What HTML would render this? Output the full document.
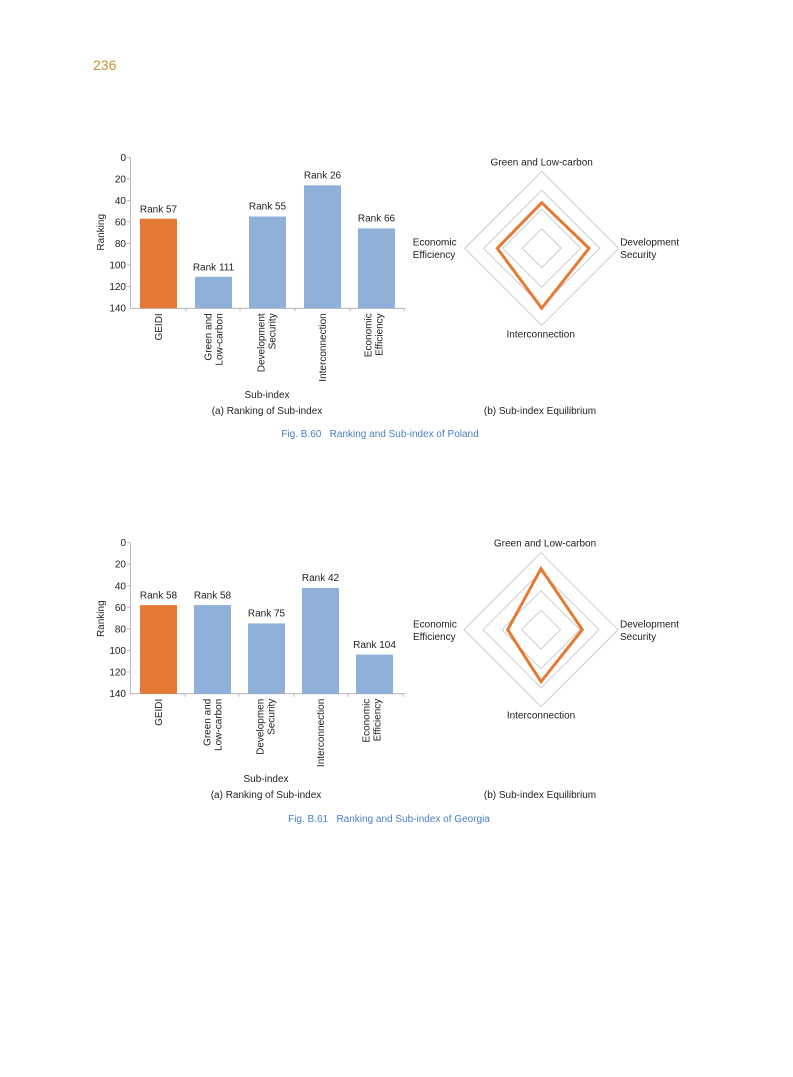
<!DOCTYPE html>
<html><head><meta charset="utf-8"><style>
html,body{margin:0;padding:0;background:#fff;}
svg{display:block;font-family:"Liberation Sans",sans-serif;}
</style></head><body>
<svg width="793" height="1077" viewBox="0 0 793 1077" xmlns="http://www.w3.org/2000/svg">
<text x="93" y="70" font-size="14" fill="#c8922f">236</text>

<!-- Chart 1 -->
<g transform="translate(0,157.3)" font-size="10" fill="#222">
  <line x1="130.5" y1="0" x2="130.5" y2="151" stroke="#aaa" stroke-width="0.8"/>
  <line x1="130" y1="151" x2="405" y2="151" stroke="#aaa" stroke-width="0.8"/>
  <g stroke="#aaa" stroke-width="0.8">
    <line x1="127" y1="0" x2="130" y2="0"/><line x1="127" y1="21.5" x2="130" y2="21.5"/><line x1="127" y1="43.1" x2="130" y2="43.1"/><line x1="127" y1="64.6" x2="130" y2="64.6"/><line x1="127" y1="86.2" x2="130" y2="86.2"/><line x1="127" y1="107.7" x2="130" y2="107.7"/><line x1="127" y1="129.3" x2="130" y2="129.3"/>
    <line x1="186" y1="151" x2="186" y2="154"/><line x1="240" y1="151" x2="240" y2="154"/><line x1="295" y1="151" x2="295" y2="154"/><line x1="350" y1="151" x2="350" y2="154"/><line x1="404" y1="151" x2="404" y2="154"/>
  </g>
  <g text-anchor="end">
    <text x="126" y="3.5">0</text><text x="126" y="25">20</text><text x="126" y="46.6">40</text><text x="126" y="68.1">60</text><text x="126" y="89.7">80</text><text x="126" y="111.2">100</text><text x="126" y="132.8">120</text><text x="126" y="154.3">140</text>
  </g>
  <rect x="140" y="61.4" width="37" height="89.6" fill="#e57a35"/>
  <rect x="195" y="119.5" width="37" height="31.5" fill="#8fb0d9"/>
  <rect x="249" y="59.2" width="37" height="91.8" fill="#8fb0d9"/>
  <rect x="304" y="28" width="37" height="123" fill="#8fb0d9"/>
  <rect x="358" y="71.1" width="37" height="79.9" fill="#8fb0d9"/>
  <g text-anchor="middle">
    <text x="158.5" y="55">Rank 57</text>
    <text x="213.5" y="113">Rank 111</text>
    <text x="267.5" y="52">Rank 55</text>
    <text x="322.5" y="21">Rank 26</text>
    <text x="376.5" y="64">Rank 66</text>
  </g>
  <g text-anchor="end">
    <text transform="translate(162,156) rotate(-90)">GEIDI</text>
    <text transform="translate(211.5,156) rotate(-90)">Green and</text>
    <text transform="translate(222.5,156) rotate(-90)">Low-carbon</text>
    <text transform="translate(264.5,156) rotate(-90)">Development</text>
    <text transform="translate(275.5,156) rotate(-90)">Security</text>
    <text transform="translate(326,156) rotate(-90)">Interconnection</text>
    <text transform="translate(371.5,156) rotate(-90)">Economic</text>
    <text transform="translate(382.5,156) rotate(-90)">Efficiency</text>
  </g>
  <text transform="translate(104,75) rotate(-90)" text-anchor="middle">Ranking</text>
  <text x="267" y="240.7" text-anchor="middle">Sub-index</text>
  <text x="267" y="256.7" text-anchor="middle">(a) Ranking of Sub-index</text>
</g>

<!-- Radar 1 -->
<g transform="translate(541.7,248.3)" font-size="10" fill="#222">
  <g fill="none" stroke="#ccc" stroke-width="1">
    <polygon points="0,-77 77,0 0,77 -77,0"/>
    <polygon points="0,-58 58,0 0,58 -58,0"/>
    <polygon points="0,-39 39,0 0,39 -39,0"/>
    <polygon points="0,-19.5 19.5,0 0,19.5 -19.5,0"/>
  </g>
  <polygon points="0,-45.6 47.3,0 0,60 -44.4,0" fill="none" stroke="#e57a35" stroke-width="3"/>
  <text x="0" y="-83" text-anchor="middle">Green and Low-carbon</text>
  <text x="78.5" y="-3">Development</text><text x="78.5" y="9.5">Security</text>
  <text x="-129" y="-3">Economic</text><text x="-129" y="9.5">Efficiency</text>
  <text x="-1" y="89" text-anchor="middle">Interconnection</text>
</g>
<text x="540" y="414" font-size="10" text-anchor="middle" fill="#222">(b) Sub-index Equilibrium</text>
<text x="380" y="437" font-size="10" text-anchor="middle" fill="#4a7fc0">Fig. B.60&#160;&#160;&#160;Ranking and Sub-index of Poland</text>

<!-- Chart 2 -->
<g transform="translate(0,542.7)" font-size="10" fill="#222">
  <line x1="130.5" y1="0" x2="130.5" y2="151" stroke="#aaa" stroke-width="0.8"/>
  <line x1="130" y1="151" x2="405" y2="151" stroke="#aaa" stroke-width="0.8"/>
  <g stroke="#aaa" stroke-width="0.8">
    <line x1="127" y1="0" x2="130" y2="0"/><line x1="127" y1="21.5" x2="130" y2="21.5"/><line x1="127" y1="43.1" x2="130" y2="43.1"/><line x1="127" y1="64.6" x2="130" y2="64.6"/><line x1="127" y1="86.2" x2="130" y2="86.2"/><line x1="127" y1="107.7" x2="130" y2="107.7"/><line x1="127" y1="129.3" x2="130" y2="129.3"/>
    <line x1="185" y1="151" x2="185" y2="154"/><line x1="239" y1="151" x2="239" y2="154"/><line x1="294" y1="151" x2="294" y2="154"/><line x1="348" y1="151" x2="348" y2="154"/><line x1="403" y1="151" x2="403" y2="154"/>
  </g>
  <g text-anchor="end">
    <text x="126" y="3.5">0</text><text x="126" y="25">20</text><text x="126" y="46.6">40</text><text x="126" y="68.1">60</text><text x="126" y="89.7">80</text><text x="126" y="111.2">100</text><text x="126" y="132.8">120</text><text x="126" y="154.3">140</text>
  </g>
  <rect x="140" y="62.4" width="37" height="88.6" fill="#e57a35"/>
  <rect x="194" y="62.4" width="37" height="88.6" fill="#8fb0d9"/>
  <rect x="248" y="80.7" width="37" height="70.3" fill="#8fb0d9"/>
  <rect x="302" y="45.2" width="37" height="105.8" fill="#8fb0d9"/>
  <rect x="356" y="111.9" width="37" height="39.1" fill="#8fb0d9"/>
  <g text-anchor="middle">
    <text x="158.5" y="56">Rank 58</text>
    <text x="212.5" y="56">Rank 58</text>
    <text x="266.5" y="74">Rank 75</text>
    <text x="320.5" y="38.5">Rank 42</text>
    <text x="374.5" y="105.5">Rank 104</text>
  </g>
  <g text-anchor="end">
    <text transform="translate(162,156) rotate(-90)">GEIDI</text>
    <text transform="translate(210.5,156) rotate(-90)">Green and</text>
    <text transform="translate(221.5,156) rotate(-90)">Low-carbon</text>
    <text transform="translate(263.5,156) rotate(-90)">Developmen</text>
    <text transform="translate(274.5,156) rotate(-90)">Security</text>
    <text transform="translate(324,156) rotate(-90)">Interconnection</text>
    <text transform="translate(369.5,156) rotate(-90)">Economic</text>
    <text transform="translate(380.5,156) rotate(-90)">Efficiency</text>
  </g>
  <text transform="translate(104,76) rotate(-90)" text-anchor="middle">Ranking</text>
  <text x="266" y="239.3" text-anchor="middle">Sub-index</text>
  <text x="266" y="255.3" text-anchor="middle">(a) Ranking of Sub-index</text>
</g>

<!-- Radar 2 -->
<g transform="translate(541,629.7)" font-size="10" fill="#222">
  <g fill="none" stroke="#ccc" stroke-width="1">
    <polygon points="0,-77 77,0 0,77 -77,0"/>
    <polygon points="0,-58 58,0 0,58 -58,0"/>
    <polygon points="0,-39 39,0 0,39 -39,0"/>
    <polygon points="0,-19.5 19.5,0 0,19.5 -19.5,0"/>
  </g>
  <polygon points="0,-61 41.3,0 0,52 -33.3,0" fill="none" stroke="#e57a35" stroke-width="3"/>
  <text x="4" y="-83" text-anchor="middle">Green and Low-carbon</text>
  <text x="79" y="-2">Development</text><text x="79" y="10.5">Security</text>
  <text x="-128" y="-2">Economic</text><text x="-128" y="10.5">Efficiency</text>
  <text x="0" y="89" text-anchor="middle">Interconnection</text>
</g>
<text x="540" y="798" font-size="10" text-anchor="middle" fill="#222">(b) Sub-index Equilibrium</text>
<text x="389" y="822" font-size="10" text-anchor="middle" fill="#4a7fc0">Fig. B.61&#160;&#160;&#160;Ranking and Sub-index of Georgia</text>
</svg>
</body></html>
